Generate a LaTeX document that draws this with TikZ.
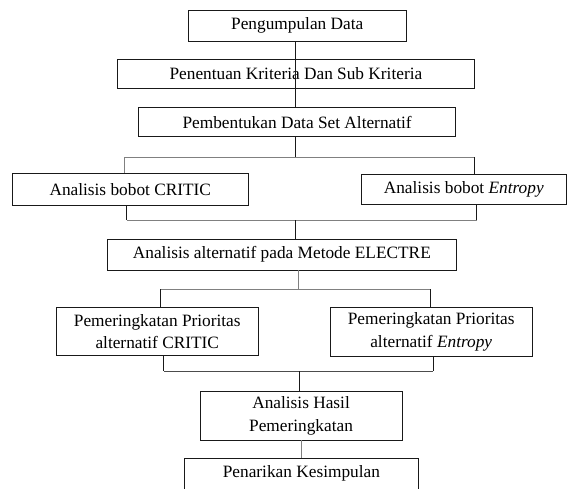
\documentclass[tikz,border=0pt]{standalone}
\usepackage{fontspec}
\setmainfont{Liberation Serif}
\begin{document}
\begin{tikzpicture}[x=1pt,y=-1pt,
  boxnode/.style={draw=black!90, line width=0.9pt, inner sep=0pt, align=center,
    font=\fontsize{17.3}{22.5}\selectfont},
  blackline/.style={draw=black!90, line width=0.9pt},
  grayline/.style={draw=black!50, line width=0.9pt}]
\useasboundingbox (0,0) rectangle (567,488);
\clip (0,0) rectangle (567,488);
% boxes
\node[boxnode, minimum width=217.5pt, minimum height=31.3pt] (b1) at (297.25,25.65) {Pengumpulan Data};
\node[boxnode, minimum width=357pt, minimum height=29pt] (b2) at (295.9,73.8) {Penentuan Kriteria Dan Sub Kriteria};
\node[boxnode, minimum width=317.4pt, minimum height=29.4pt] (b3) at (297.1,122) {Pembentukan Data Set Alternatif};
\node[boxnode, minimum width=235.5pt, minimum height=31.5pt] (bc) at (130.25,189.25) {Analisis bobot CRITIC};
\node[boxnode, minimum width=205.5pt, minimum height=30pt] (be) at (463.75,189) {Analisis bobot \textit{Entropy}};
\node[boxnode, minimum width=348.9pt, minimum height=30.7pt] (b4) at (281.85,254.65) {Analisis alternatif pada Metode ELECTRE};
\node[boxnode, minimum width=202.5pt, minimum height=48.4pt] (bp1) at (157.25,331.5) {Pemeringkatan Prioritas\\alternatif CRITIC};
\node[boxnode, minimum width=202.2pt, minimum height=49.4pt] (bp2) at (431.2,332) {Pemeringkatan Prioritas\\alternatif \textit{Entropy}};
\node[boxnode, minimum width=202.1pt, minimum height=48.3pt] (bh) at (301.05,415.85) {Analisis Hasil\\Pemeringkatan};
\node[boxnode, minimum width=234pt, minimum height=31pt] (bk) at (301.4,473.8) {Penarikan Kesimpulan};
% junction coordinates
\coordinate (j1) at (295.8,157);
\coordinate (j1L) at (124.8,157);
\coordinate (j1R) at (474.4,157);
\coordinate (j2) at (295.8,220);
\coordinate (j2L) at (126.7,220);
\coordinate (j2R) at (476.5,220);
\coordinate (j3) at (298.3,289.3);
\coordinate (j3L) at (160.2,289.3);
\coordinate (j3R) at (430.3,289.3);
\coordinate (j4) at (299.4,371);
\coordinate (j4L) at (163.8,371);
\coordinate (j4R) at (433.2,371);
% connectors
\draw[blackline] (b1.south -| j1) -- (b3.north -| j1);
\draw[blackline] (b3.south -| j1) -- (j1);
\draw[grayline] (j1L) -- (j1R);
\draw[grayline] (j1L) -- (j1L |- bc.north);
\draw[blackline] (j1R) -- (j1R |- be.north);
\draw[blackline] (bc.south -| j2L) -- (j2L);
\draw[blackline] (be.south -| j2R) -- (j2R);
\draw[grayline] (j2L) -- (j2R);
\draw[blackline] (j2) -- (j2 |- b4.north);
\draw[grayline] (b4.south -| j3) -- (j3);
\draw[grayline] (j3L) -- (j3R);
\draw[blackline] (j3L) -- (j3L |- bp1.north);
\draw[blackline] (j3R) -- (j3R |- bp2.north);
\draw[blackline] (bp1.south -| j4L) -- (j4L);
\draw[blackline] (bp2.south -| j4R) -- (j4R);
\draw[draw=black!70, line width=0.9pt] (j4L) -- (j4R);
\draw[blackline] (j4) -- (j4 |- bh.north);
\draw[grayline] (bh.south -| bk.north) -- (bk.north);
\end{tikzpicture}
\end{document}
